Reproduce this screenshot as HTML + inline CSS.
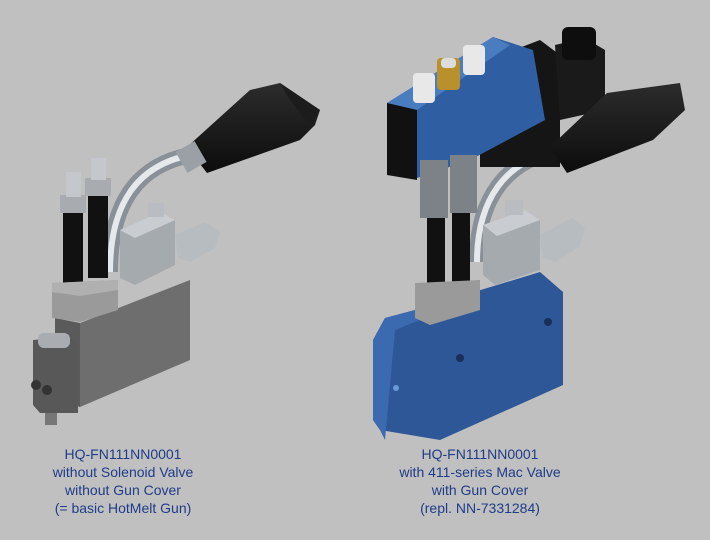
<!DOCTYPE html>
<html><head><style>
html,body{margin:0;padding:0;background:#c0c0c0;}
.wrap{position:relative;width:710px;height:540px;overflow:hidden;background:#c0c0c0;}
.cap{position:absolute;font-family:"Liberation Sans",sans-serif;font-size:14px;line-height:18px;color:#1f3c88;text-align:center;width:260px;}
</style></head><body><div class="wrap">
<svg width="710" height="540" style="position:absolute;left:0;top:0">
<defs>
<linearGradient id="chr" x1="0" x2="1"><stop offset="0" stop-color="#8d949c"/><stop offset=".5" stop-color="#f2f4f6"/><stop offset="1" stop-color="#7a8088"/></linearGradient>
<linearGradient id="blk" x1="0" x2="0" y1="0" y2="1"><stop offset="0" stop-color="#2c2c2c"/><stop offset="1" stop-color="#0c0c0c"/></linearGradient>
</defs>
<!-- LEFT GUN -->
<path d="M110 272 C110 200 140 165 190 155" stroke="#8a9098" stroke-width="16" fill="none"/>
<path d="M110 272 C110 200 140 165 190 155" stroke="#e6e9ec" stroke-width="6" fill="none"/>
<polygon points="187,147 250,90 280,83 320,110 315,125 300,140 207,173" fill="url(#blk)"/>
<polygon points="280,83 320,110 310,125 290,100" fill="#1c1c1c"/>
<rect x="180" y="145" width="22" height="24" fill="#9aa0a6" transform="rotate(-30 191 157)"/>
<rect x="63" y="205" width="20" height="85" fill="#111"/>
<rect x="88" y="188" width="20" height="90" fill="#111"/>
<rect x="60" y="195" width="26" height="18" fill="#a8acb0"/>
<rect x="85" y="178" width="26" height="18" fill="#a8acb0"/>
<rect x="66" y="172" width="15" height="25" fill="#c4c8cc"/>
<rect x="91" y="158" width="15" height="22" fill="#c4c8cc"/>
<polygon points="120,230 160,212 175,220 175,265 135,285 120,278" fill="#a5aaaf"/>
<polygon points="120,230 160,212 175,220 135,238" fill="#c9cdd1"/>
<rect x="148" y="203" width="16" height="14" fill="#b9bdc1"/>
<polygon points="175,235 205,222 220,232 215,248 190,262 178,258" fill="#b7bcc1"/>
<polygon points="80,323 190,280 190,360 80,407" fill="#6e6e6e"/>
<polygon points="55,318 80,323 80,407 55,400" fill="#5a5a5a"/>
<polygon points="52,283 118,280 118,310 80,322 52,318" fill="#9a9a9a"/>
<polygon points="52,283 118,280 118,290 80,296 52,292" fill="#b0b0b0"/>
<polygon points="33,340 70,337 78,345 78,413 40,413 33,405" fill="#585858"/>
<rect x="38" y="333" width="32" height="15" fill="#a9adb1" rx="6"/>
<circle cx="36" cy="385" r="5" fill="#333"/><circle cx="47" cy="390" r="5" fill="#333"/>
<rect x="45" y="413" width="12" height="12" fill="#777"/>
<!-- RIGHT GUN -->
<path d="M477 262 C477 200 505 160 560 150" stroke="#8a9098" stroke-width="16" fill="none"/>
<path d="M477 262 C477 200 505 160 560 150" stroke="#e6e9ec" stroke-width="6" fill="none"/>
<polygon points="480,63 540,40 560,55 560,167 480,167" fill="#151515"/>
<polygon points="555,45 585,38 605,50 605,110 560,120" fill="#1a1a1a"/>
<rect x="562" y="27" width="34" height="33" fill="#0e0e0e" rx="6"/>
<polygon points="550,147 607,93 680,83 685,110 653,140 567,173" fill="url(#blk)"/>
<polygon points="387,103 493,37 533,50 545,120 470,160 417,178" fill="#2f5ea3"/>
<polygon points="387,103 493,37 510,45 417,110" fill="#4a7cc0"/>
<polygon points="387,103 417,110 417,180 387,175" fill="#111"/>
<rect x="413" y="73" width="22" height="30" fill="#e8e8e8" rx="4"/>
<rect x="437" y="58" width="23" height="32" fill="#b8902c" rx="4"/>
<rect x="441" y="58" width="15" height="10" fill="#ddd" rx="4"/>
<rect x="463" y="45" width="22" height="30" fill="#e8e8e8" rx="4"/>
<rect x="427" y="215" width="18" height="75" fill="#111"/>
<rect x="452" y="210" width="18" height="75" fill="#111"/>
<rect x="420" y="160" width="28" height="58" fill="#7c8288"/>
<rect x="450" y="155" width="27" height="58" fill="#7c8288"/>
<polygon points="483,225 525,210 540,220 540,270 495,285 483,275" fill="#a5aaaf"/>
<polygon points="483,225 525,210 540,220 497,236" fill="#c9cdd1"/>
<rect x="505" y="200" width="18" height="15" fill="#b9bdc1"/>
<polygon points="540,235 572,218 585,228 580,246 556,262 543,258" fill="#b7bcc1"/>
<polygon points="373,340 385,318 415,310 540,272 563,292 563,385 440,440 380,430 373,420" fill="#2d5797"/>
<polygon points="373,340 385,318 415,310 420,320 395,330 385,440 380,430 373,420" fill="#3c6ab0"/>
<polygon points="415,283 480,280 480,310 430,325 415,318" fill="#9a9a9a"/>
<circle cx="548" cy="322" r="4" fill="#1a2f55"/><circle cx="460" cy="358" r="4" fill="#1a2f55"/><circle cx="396" cy="388" r="3" fill="#6a9ad8"/>
</svg>
<div class="cap" style="left:-7px;top:445px">HQ-FN111NN0001<br>without Solenoid Valve<br>without Gun Cover<br>(= basic HotMelt Gun)</div>
<div class="cap" style="left:350px;top:445px">HQ-FN111NN0001<br>with 411-series Mac Valve<br>with Gun Cover<br>(repl. NN-7331284)</div>
</div></body></html>
